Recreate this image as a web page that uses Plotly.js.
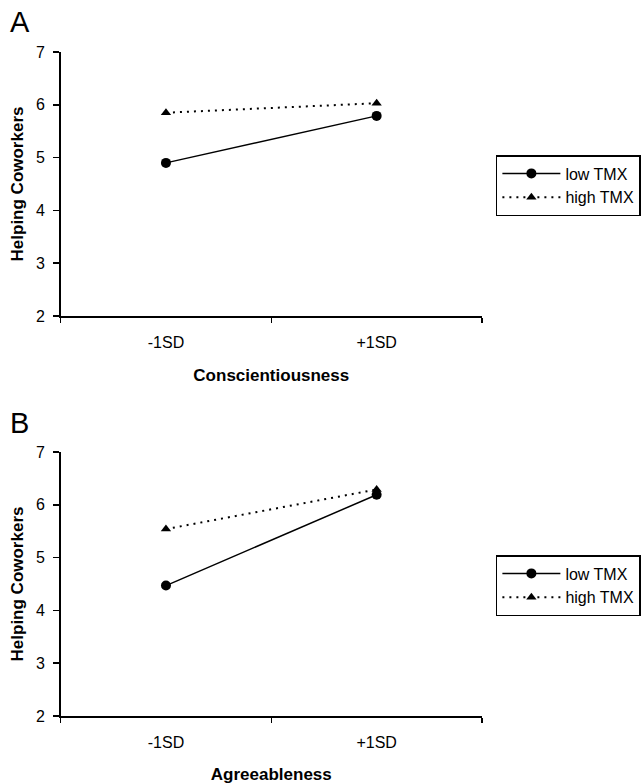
<!DOCTYPE html>
<html>
<head>
<meta charset="utf-8">
<script src="https://cdn.plot.ly/plotly-3.0.1.min.js"></script>
<style>html,body{margin:0;padding:0;background:#fff;}#chart{width:641px;height:784px;}</style>
</head>
<body>
<div id="chart"></div>
<script>
const categories = ["-1SD", "+1SD"];
const seriesNames = ["low TMX", "high TMX"];
// Panel A: Conscientiousness
const consLow = [4.90, 5.79];
const consHigh = [5.85, 6.03];
// Panel B: Agreeableness
const agreeLow = [4.47, 6.19];
const agreeHigh = [5.54, 6.29];
const yTicks = [2, 3, 4, 5, 6, 7];
const panelLabels = ["A", "B"];
const xTitles = ["Conscientiousness", "Agreeableness"];
const yTitle = "Helping Coworkers";

const FONT = "Arial, 'Liberation Sans', sans-serif";

function lowTrace(y, xa, ya, lg) {
  return {x: categories, y: y, xaxis: xa, yaxis: ya, legend: lg, name: seriesNames[0],
    type: "scatter", mode: "lines+markers",
    line: {color: "#000", width: 1.5, dash: "solid"},
    marker: {symbol: "circle", size: 10, color: "#000"}};
}
function highTrace(y, xa, ya, lg) {
  return {x: categories, y: y, xaxis: xa, yaxis: ya, legend: lg, name: seriesNames[1],
    type: "scatter", mode: "lines+markers",
    line: {color: "#000", width: 2, dash: "2px,5px"},
    marker: {symbol: "triangle-up", size: 9, color: "#000"}};
}

const data = [
  lowTrace(consLow, "x", "y", "legend"),
  highTrace(consHigh, "x", "y", "legend"),
  lowTrace(agreeLow, "x2", "y2", "legend2"),
  highTrace(agreeHigh, "x2", "y2", "legend2")
];

function xaxis(title, anchor) {
  return {
    domain: [61/641, 485/641], anchor: anchor, type: "category",
    range: [-0.5, 1.5], tickson: "boundaries",
    showline: true, linecolor: "#000", linewidth: 2, mirror: false,
    ticks: "outside", ticklen: 5, tickcolor: "#000", tickwidth: 1.5,
    ticklabelstandoff: 11,
    showgrid: false, zeroline: false,
    tickfont: {family: FONT, size: 16, color: "#000"},
    title: {text: "<b>" + title + "</b>", font: {family: FONT, size: 17, color: "#000"}, standoff: 19}
  };
}
function yaxis(domain, anchor) {
  return {
    domain: domain, anchor: anchor, range: [2, 7], tickvals: yTicks,
    showline: true, linecolor: "#000", linewidth: 1.5,
    ticks: "outside", ticklen: 6, tickcolor: "#000", tickwidth: 1.5,
    ticklabelstandoff: 5,
    showgrid: false, zeroline: false,
    tickfont: {family: FONT, size: 16, color: "#000"},
    title: {text: "<b>" + yTitle + "</b>", font: {family: FONT, size: 17, color: "#000"}, standoff: 8}
  };
}

const legendCommon = {
  bgcolor: "#fff", bordercolor: "#000", borderwidth: 1.5,
  font: {family: FONT, size: 16, color: "#000"},
  xanchor: "left", yanchor: "top", itemwidth: 58, tracegroupgap: 0
};

const layout = {
  width: 641, height: 784,
  margin: {l: 0, r: 0, t: 0, b: 0},
  paper_bgcolor: "#fff", plot_bgcolor: "#fff",
  showlegend: true,
  xaxis: xaxis(xTitles[0], "y"),
  yaxis: yaxis([1 - 316/784, 1 - 52/784], "x"),
  xaxis2: xaxis(xTitles[1], "y2"),
  yaxis2: yaxis([1 - 716/784, 1 - 452/784], "x2"),
  legend: Object.assign({}, legendCommon, {x: 499/641, y: 1 - 155/784}),
  legend2: Object.assign({}, legendCommon, {x: 499/641, y: 1 - 555/784}),
  annotations: [
    {text: panelLabels[0], xref: "paper", yref: "paper", x: 8/641, y: 1 - 4/784,
     xanchor: "left", yanchor: "top", showarrow: false, font: {family: FONT, size: 29, color: "#000"}},
    {text: panelLabels[1], xref: "paper", yref: "paper", x: 8/641, y: 1 - 405/784,
     xanchor: "left", yanchor: "top", showarrow: false, font: {family: FONT, size: 29, color: "#000"}}
  ]
};

Plotly.newPlot("chart", data, layout, {displayModeBar: false, staticPlot: true});
</script>
</body>
</html>
